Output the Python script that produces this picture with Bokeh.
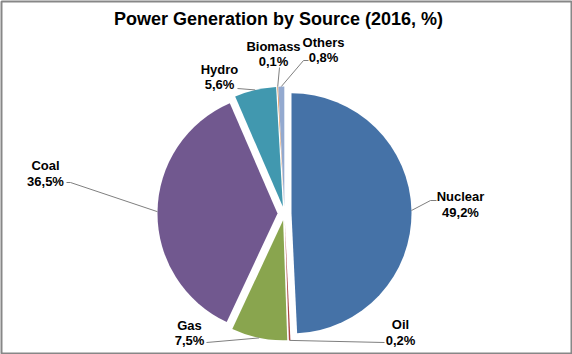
import math
from bokeh.plotting import figure
from bokeh.models import Range1d, ColumnDataSource
from bokeh.core.properties import value
from bokeh.embed import file_html
from bokeh.resources import INLINE

# ---- data ----
sources = ["Nuclear", "Oil", "Gas", "Coal", "Hydro", "Biomass", "Others"]
shares = [49.2, 0.2, 7.5, 36.5, 5.6, 0.1, 0.8]
colors = ["#4572A7", "#AA4643", "#89A54E", "#71588F", "#4198AF", "#DB843D", "#93A9CF"]
chart_title = "Power Generation by Source (2016, %)"

# ---- layout (screen pixels) ----
W, H = 572, 354
CX, CY = 284, 213      # pie centre (screen)
R = 120                # radius
EXPLODE = 7            # explosion distance
# label centre x, name line y, value line y (screen)
label_pos = {
    "Nuclear": (460, 196, 212),
    "Oil": (400, 324, 340),
    "Gas": (189, 325, 340),
    "Coal": (45, 165, 181),
    "Hydro": (219, 69, 84),
    "Biomass": (273, 46, 61),
    "Others": (323, 42, 57),
}
# leader line path from label side (screen points), ending at the slice
leader_path = {
    "Nuclear": [(436, 200), (430, 200)],
    "Oil": [(384, 342)],
    "Gas": [(206, 342)],
    "Coal": [(66, 182), (70, 182)],
    "Hydro": [(237, 88)],
    "Biomass": [(279, 67)],
    "Others": [(308, 60), (303, 60)],
}


def sy(y):
    return H - y


p = figure(width=W, height=H, output_backend="svg", toolbar_location=None,
           x_range=Range1d(1, W - 1), y_range=Range1d(1, H - 1),
           min_border=1, x_axis_location=None, y_axis_location=None,
           background_fill_color="white", border_fill_color="white")
p.grid.visible = False
p.outline_line_color = "#878787"
p.outline_line_width = 2

total = sum(shares)
xs, ys, starts, ends, mids = [], [], [], [], []
cum = 0.0
for s in shares:
    f0 = cum / total
    cum += s
    f1 = cum / total
    a0 = math.pi / 2 - 2 * math.pi * f0
    a1 = math.pi / 2 - 2 * math.pi * f1
    am = (a0 + a1) / 2
    xs.append(CX + EXPLODE * math.cos(am))
    ys.append(sy(CY) + EXPLODE * math.sin(am))
    starts.append(a0)
    ends.append(a1)
    mids.append(am)

src = ColumnDataSource(dict(x=xs, y=ys, start=starts, end=ends, color=colors,
                            name=sources, share=shares))
p.wedge(x="x", y="y", radius=R, start_angle="start", end_angle="end",
        direction="clock", fill_color="color", line_color=None, source=src)

# leader lines
lx, ly = [], []
for i, name in enumerate(sources):
    px = xs[i] + R * math.cos(mids[i])
    py = ys[i] + R * math.sin(mids[i])
    pts = leader_path[name]
    lx.append([q[0] for q in pts] + [px])
    ly.append([sy(q[1]) for q in pts] + [py])
p.multi_line(xs=lx, ys=ly, line_color="#7f7f7f", line_width=1)

# labels
names_x, names_y, vals_x, vals_y, vals_t = [], [], [], [], []
for name, s in zip(sources, shares):
    x, y1, y2 = label_pos[name]
    names_x.append(x)
    names_y.append(sy(y1))
    vals_x.append(x)
    vals_y.append(sy(y2))
    vals_t.append(f"{s:.1f}".replace(".", ",") + "%")

font = value("Liberation Sans")
p.text(x=names_x, y=names_y, text=sources, text_align="center",
       text_baseline="middle", text_font=font, text_font_style="bold",
       text_font_size="13px", text_color="black")
p.text(x=vals_x, y=vals_y, text=vals_t, text_align="center",
       text_baseline="middle", text_font=font, text_font_style="bold",
       text_font_size="13px", text_color="black")

p.text(x=[278], y=[sy(18)], text=[chart_title], text_align="center",
       text_baseline="middle", text_font=font, text_font_style="bold",
       text_font_size="18px", text_color="black")

open("out.html", "w").write(file_html(p, INLINE))
